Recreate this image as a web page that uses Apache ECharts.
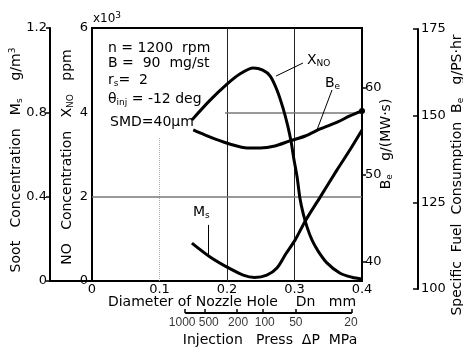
<!DOCTYPE html>
<html><head><meta charset="utf-8">
<script src="https://cdn.jsdelivr.net/npm/echarts@6/dist/echarts.min.js"></script>
<style>html,body{margin:0;padding:0;background:#fff}#c{width:463px;height:347px}</style>
</head><body><div id="c"></div>
<script>
// Data (Dn in mm)
const xnoDn  = [0.148,0.175,0.200,0.219,0.239,0.253,0.264,0.274,0.283,0.290,0.295,0.299,0.304,0.308,0.313,0.319,0.326,0.335,0.348,0.367,0.385,0.400];
const xnoVal = [3.82,4.29,4.67,4.91,5.05,5.00,4.86,4.53,4.10,3.68,3.30,2.90,2.45,1.97,1.59,1.26,0.97,0.71,0.43,0.19,0.09,0.05]; // x10^3 ppm
const beDn  = [0.150,0.167,0.182,0.204,0.230,0.249,0.271,0.293,0.316,0.338,0.364,0.382,0.400];
const beVal = [55.17,54.60,54.14,53.56,53.10,53.10,53.33,53.91,54.48,55.29,56.09,56.78,57.36]; // g/(MW s)
const msDn  = [0.148,0.175,0.200,0.224,0.241,0.259,0.274,0.287,0.301,0.316,0.338,0.363,0.382,0.400];
const msVal = [0.180,0.114,0.066,0.028,0.017,0.028,0.062,0.128,0.195,0.285,0.398,0.527,0.621,0.716]; // g/m3
const pressDn  = [0.138,0.167,0.215,0.253,0.302,0.385];
const pressLbl = ['1000','500','200','100','50','20'];
const xTicks = [0,0.1,0.2,0.3,0.4];
const beTicks = [40,50,60];

const F = 'DejaVu Sans', C = '#000';
const pair = (xs, ys) => xs.map((x, i) => [x, ys[i]]);
const rich = {
  s: {fontSize: 9, lineHeight: 6, verticalAlign: 'bottom', fill: C, fontFamily: F},
  p: {fontSize: 9, lineHeight: 6, verticalAlign: 'top', fill: C, fontFamily: F}
};
function txt(x, y, text, size, rot, align) {
  return {type: 'text', x: x, y: y, rotation: rot || 0, silent: true,
    style: {text: text, rich: rich, fontSize: size || 13, fontFamily: F, fill: C,
      lineHeight: 16, align: align || 'center', verticalAlign: 'middle'}};
}
const R = Math.PI / 2;
const axisLine = {show: true, onZero: false, lineStyle: {color: '#000', width: 2}};
const lbl = {fontFamily: F, fontSize: 13, color: C};
// small horizontal nudges of the pressure labels (as printed)
const pressShift = [-3, 4, 1, 2, 0, -1];
const pressRich = {};
pressShift.forEach((s, i) => {
  pressRich['r' + i] = {fontFamily: 'Liberation Sans', fontSize: 12, color: C,
    padding: [0, s < 0 ? -2 * s : 0, 0, s > 0 ? 2 * s : 0]};
});

const chart = echarts.init(document.getElementById('c'));
chart.setOption({
  animation: false,
  grid: [
    {left: 92, right: 101, top: 28, bottom: 66, show: true, borderColor: '#000', borderWidth: 2},
    {left: 50, right: 371, top: 28, bottom: 66},
    {left: 92, right: 101, top: 312, height: 1},
    {left: 380, right: 45, top: 29, bottom: 58}
  ],
  xAxis: [
    {gridIndex: 0, type: 'value', min: 0, max: 0.4, interval: 0.1, axisLine: axisLine,
      axisTick: {show: false}, splitLine: {show: false},
      axisLabel: Object.assign({margin: 2, customValues: xTicks}, lbl),
      name: 'Diameter of Nozzle Hole    Dn   mm', nameLocation: 'middle', nameGap: 14,
      nameMoveOverlap: false,
      nameTextStyle: {fontFamily: F, fontSize: 14, color: C, padding: [0, 0, 0, 10]}},
    {gridIndex: 1, type: 'value', min: 0, max: 1, axisLine: axisLine, axisTick: {show: false},
      axisLabel: {show: false}, splitLine: {show: false}},
    {gridIndex: 2, type: 'value', min: 0, max: 0.4, axisLine: {show: false},
      axisTick: {show: true, inside: true, length: 4, customValues: pressDn, lineStyle: {color: '#000', width: 1.5}},
      axisLabel: {show: false}, splitLine: {show: false}},
    {gridIndex: 3, type: 'value', show: false, min: 0, max: 1}
  ],
  yAxis: [
    {gridIndex: 0, type: 'value', min: 0, max: 6, interval: 2, position: 'left', axisLine: axisLine,
      axisTick: {show: false}, splitLine: {show: false}, axisLabel: Object.assign({margin: 4}, lbl)},
    {gridIndex: 0, type: 'value', min: 0, max: 1.2, interval: 0.4, position: 'left', offset: 42,
      axisLine: axisLine, axisTick: {show: true, length: 4, lineStyle: {color: '#000', width: 1.5}},
      splitLine: {show: false},
      axisLabel: Object.assign({margin: 3, formatter: v => v === 0 ? '0' : v.toFixed(1)}, lbl)},
    {gridIndex: 0, type: 'value', min: 37.8, max: 66.9, position: 'right', axisLine: axisLine,
      axisTick: {show: true, length: 4, customValues: beTicks, lineStyle: {color: '#000', width: 1.5}},
      axisLabel: Object.assign({margin: 3, customValues: beTicks}, lbl), splitLine: {show: false}},
    {gridIndex: 1, type: 'value', show: false, min: 0, max: 1},
    {gridIndex: 2, type: 'value', show: false, min: 0, max: 1},
    {gridIndex: 3, type: 'value', min: 100, max: 175, interval: 25, position: 'right', axisLine: axisLine,
      axisTick: {show: true, inside: true, length: 5, lineStyle: {color: '#000', width: 1.5}},
      splitLine: {show: false}, axisLabel: Object.assign({margin: 3}, lbl)}
  ],
  series: [
    {type: 'line', xAxisIndex: 0, yAxisIndex: 0, data: pair(xnoDn, xnoVal), smooth: 0.3,
      showSymbol: false, lineStyle: {color: '#000', width: 3}, z: 5,
      markLine: {silent: true, symbol: 'none', label: {show: false}, animation: false,
        data: [
          [{coord: [0.2, 0], lineStyle: {color: '#222', width: 1, type: 'solid'}}, {coord: [0.2, 6]}],
          [{coord: [0.3, 0], lineStyle: {color: '#222', width: 1, type: 'solid'}}, {coord: [0.3, 6]}],
          [{coord: [0.1, 0], lineStyle: {color: '#aaa', width: 1, type: 'dotted'}}, {coord: [0.1, 3.4]}],
          [{coord: [0, 2], lineStyle: {color: '#777', width: 1.5, type: 'solid'}}, {coord: [0.4, 2]}],
          [{coord: [0.197, 4], lineStyle: {color: '#777', width: 1.5, type: 'solid'}}, {coord: [0.4, 4]}],
          [{coord: [0.3126, 5.17], lineStyle: {color: '#000', width: 1, type: 'solid'}}, {coord: [0.2726, 4.86]}]
        ]}},
    {type: 'line', xAxisIndex: 0, yAxisIndex: 1, data: pair(msDn, msVal), smooth: 0.3,
      showSymbol: false, lineStyle: {color: '#000', width: 3}, z: 5,
      markLine: {silent: true, symbol: 'none', label: {show: false},
        data: [[{coord: [0.1719, 0.266], lineStyle: {color: '#000', width: 1, type: 'solid'}}, {coord: [0.1719, 0.123]}]]}},
    {type: 'line', xAxisIndex: 0, yAxisIndex: 2, data: pair(beDn, beVal), smooth: 0.3,
      showSymbol: false, lineStyle: {color: '#000', width: 3}, z: 5,
      markPoint: {silent: true, symbol: 'circle', symbolSize: 6, itemStyle: {color: '#000'}, label: {show: false},
        data: [{coord: [beDn[beDn.length - 1], beVal[beVal.length - 1]]}]},
      markLine: {silent: true, symbol: 'none', label: {show: false},
        data: [[{coord: [0.3556, 59.77], lineStyle: {color: '#000', width: 1, type: 'solid'}}, {coord: [0.3333, 55.17]}]]}},
    {type: 'line', xAxisIndex: 2, yAxisIndex: 4, data: [[pressDn[0], 0], [pressDn[pressDn.length - 1], 0]],
      showSymbol: false, lineStyle: {color: '#000', width: 2}},
    {type: 'scatter', xAxisIndex: 2, yAxisIndex: 4, symbolSize: 0, silent: true,
      data: pressDn.map((d, i) => [d, 0, i]),
      label: {show: true, position: 'bottom', distance: 4,
        formatter: p => '{r' + p.value[2] + '|' + pressLbl[p.value[2]] + '}',
        rich: pressRich, fontFamily: 'Liberation Sans', fontSize: 12, color: C},
      labelLayout: {hideOverlap: false}}
  ],
  graphic: [
    txt(16, 160, 'Soot   Concentration   M{s|s}    g/m{p|3}', 14, R),
    txt(67, 157, 'NO   Concentration   X{s|NO}   ppm', 14, R),
    txt(386, 144, 'B{s|e}   g/(MW·s)', 14, R),
    txt(457, 175, 'Specific  Fuel  Consumption  B{s|e}   g/PS·hr', 14, R),
    txt(93, 19, 'x10{p|3}', 12, 0, 'left'),
    txt(108, 48, 'n = 1200  rpm', 14, 0, 'left'),
    txt(108, 63, 'B =  90  mg/st', 14, 0, 'left'),
    txt(108, 80, 'r{s|s}=  2', 14, 0, 'left'),
    txt(108, 99, 'θ{s|inj} = -12 deg', 14, 0, 'left'),
    txt(110, 122, 'SMD=40µm', 14, 0, 'left'),
    txt(307, 60, 'X{s|NO}', 14, 0, 'left'),
    txt(325, 83, 'B{s|e}', 14, 0, 'left'),
    txt(193, 212, 'M{s|s}', 14, 0, 'left'),
    txt(270, 340, 'Injection   Press  ΔP  MPa', 14)
  ]
});
</script></body></html>
